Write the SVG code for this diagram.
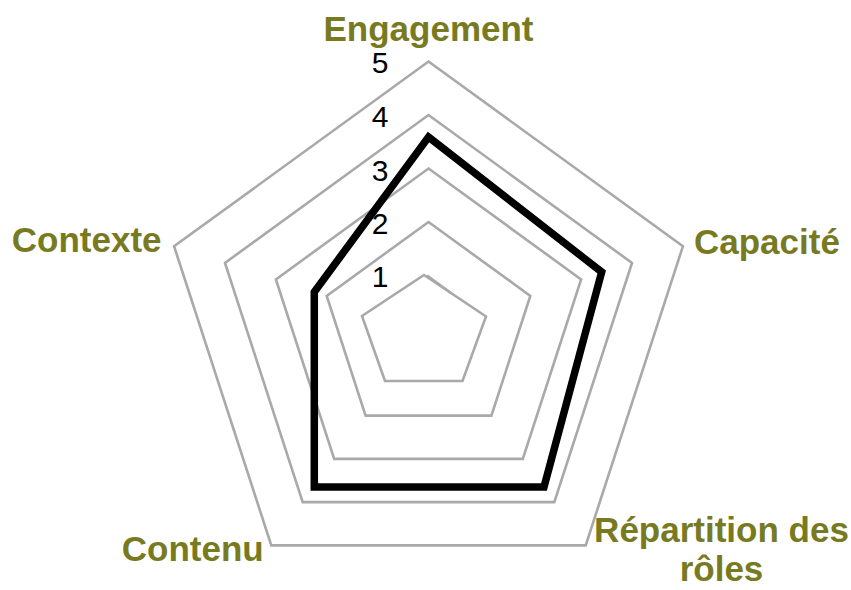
<svg xmlns="http://www.w3.org/2000/svg" width="851" height="590" viewBox="0 0 851 590">
  <style>
    .grid { fill: none; stroke: #A9A9A9; stroke-width: 2.6; stroke-linejoin: miter; }
    .data { fill: none; stroke: #000000; stroke-width: 7.5; stroke-linejoin: miter; }
    .cat { font-family: "Liberation Sans", Arial, sans-serif; font-weight: bold; font-size: 35px; fill: #777A1F; }
    .tick { font-family: "Liberation Sans", Arial, sans-serif; font-size: 30px; fill: #000000; text-anchor: end; }
  </style>
  <rect width="851" height="590" fill="#FFFFFF"/>
  <g id="grid">
    <polygon class="grid" points="424,275 486,316.5 462.5,381 385,381 362,316"/>
    <line class="grid" x1="427" y1="275.5" x2="451" y2="293"/>
    <polygon class="grid" points="428.5,222 530.3,295.9 491.4,415.6 365.6,415.6 326.7,295.9"/>
    <polygon class="grid" points="428.5,168.5 581.1,279.4 522.8,458.9 334.2,458.9 275.9,279.4"/>
    <polygon class="grid" points="428.5,115 632,262.9 554.3,502.1 302.7,502.1 225,262.9"/>
    <polygon class="grid" points="428.5,61.5 682.9,246.3 585.7,545.4 271.3,545.4 174.1,246.3"/>
  </g>
  <g id="ticks">
    <text class="tick" x="388.5" y="72.5">5</text>
    <text class="tick" x="388.5" y="127">4</text>
    <text class="tick" x="388.5" y="180.5">3</text>
    <text class="tick" x="388.5" y="234">2</text>
    <text class="tick" x="388.5" y="287">1</text>
  </g>
  <g id="connectors">
    <polygon class="data" points="428.5,137 601.7,272 544,487 314.3,487 314.3,292"/>
  </g>
  <g id="node-engagement">
    <text class="cat" x="428.5" y="41" text-anchor="middle">Engagement</text>
  </g>
  <g id="node-capacite">
    <text class="cat" x="694" y="253.5">Capacité</text>
  </g>
  <g id="node-repartition">
    <text class="cat" x="721.5" y="542" text-anchor="middle">Répartition des</text>
    <text class="cat" x="721.5" y="581" text-anchor="middle">rôles</text>
  </g>
  <g id="node-contenu">
    <text class="cat" x="121.8" y="561">Contenu</text>
  </g>
  <g id="node-contexte">
    <text class="cat" x="11.8" y="251.5">Contexte</text>
  </g>
</svg>
